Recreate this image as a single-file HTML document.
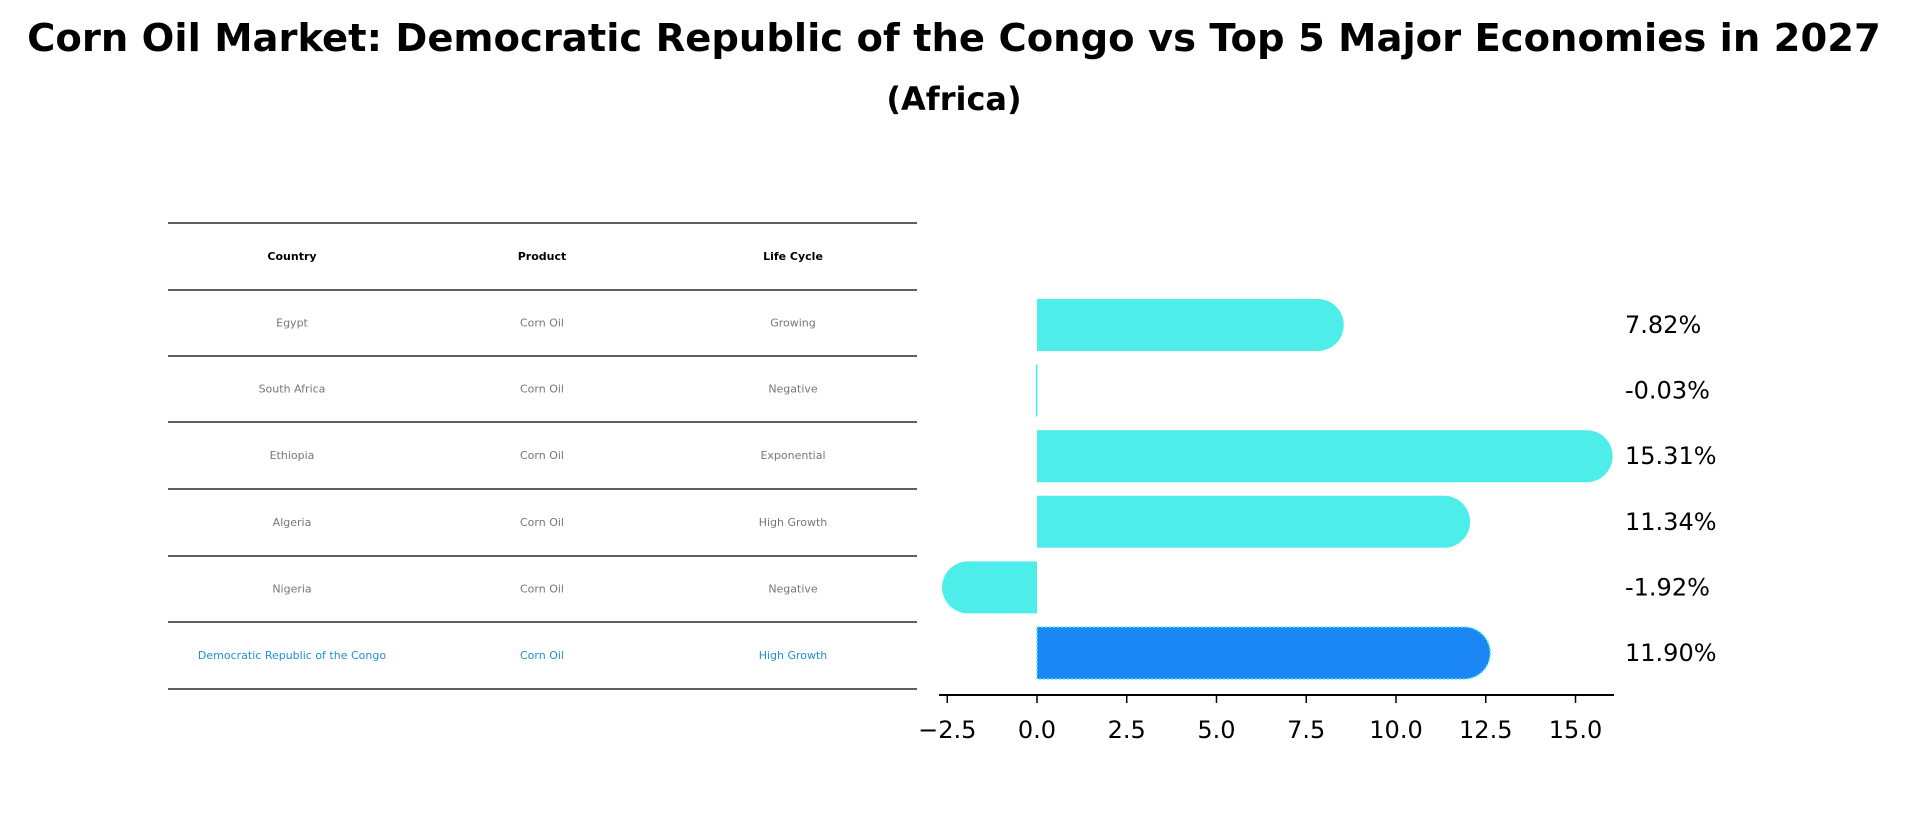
<!DOCTYPE html>
<html><head><meta charset="utf-8"><style>
body{margin:0;background:#fff;width:1909px;height:823px;overflow:hidden;font-family:"Liberation Sans","DejaVu Sans",sans-serif;}
</style></head><body>
<svg width="1909" height="823" xmlns="http://www.w3.org/2000/svg" font-family="DejaVu Sans, Liberation Sans, sans-serif">
<text x="954" y="51" text-anchor="middle" font-size="38.5" font-weight="bold">Corn Oil Market: Democratic Republic of the Congo vs Top 5 Major Economies in 2027</text>
<text x="954" y="110" text-anchor="middle" font-size="32" font-weight="bold">(Africa)</text>
<g id="table"></g>
<g id="bars"></g>
<g id="axis"></g>
</svg>
<script>
const countries=["Egypt","South Africa","Ethiopia","Algeria","Nigeria","Democratic Republic of the Congo"];
const products=["Corn Oil","Corn Oil","Corn Oil","Corn Oil","Corn Oil","Corn Oil"];
const lifeCycles=["Growing","Negative","Exponential","High Growth","Negative","High Growth"];
const values=[7.82,-0.03,15.31,11.34,-1.92,11.90];
const labels=["7.82%","-0.03%","15.31%","11.34%","-1.92%","11.90%"];
const ticks=[-2.5,0,2.5,5,7.5,10,12.5,15];
const tickLabels=["\u22122.5","0.0","2.5","5.0","7.5","10.0","12.5","15.0"];
const NS="http://www.w3.org/2000/svg";
function mk(t,a,p){const e=document.createElementNS(NS,t);for(const k in a)e.setAttribute(k,a[k]);p.appendChild(e);return e;}
const x=v=>1037+v*35.9;
const rowY=i=>325+i*65.6;
const tb=document.getElementById('table');
const lineY=[223,290,356,422,489,556,622,689];
lineY.forEach((y,i)=>{const l=mk('line',{x1:168,x2:917,y1:y,y2:y,stroke:'#000','stroke-width':1.2},tb);

});
const colX=[292,542,793];
["Country","Product","Life Cycle"].forEach((h,i)=>{const t=mk('text',{x:colX[i],y:260,'text-anchor':'middle','font-size':11,'font-weight':'bold'},tb);t.textContent=h;

});
countries.forEach((c,r)=>{const y=(lineY[r+1]+lineY[r+2])/2+3.5;const last=r===countries.length-1;
[c,products[r],lifeCycles[r]].forEach((s,i)=>{const t=mk('text',{x:colX[i],y:y,'text-anchor':'middle','font-size':11,fill:last?'#1f8fd6':'#777'},tb);t.textContent=s;

});});
const bg=document.getElementById('bars');const h=52,r=26;
values.forEach((v,i)=>{const cy=rowY(i);const x0=x(0),x1=x(v);const last=i===values.length-1;const col=last?'#1a87f5':'#4deeea';
let d;
if(Math.abs(x1-x0)<3){d=`M${Math.min(x0,x1)},${cy-h/2}H${Math.max(x0,x1)+0.5}v${h}H${Math.min(x0,x1)}z`;}
else if(v>=0){d=`M${x0},${cy-h/2}H${x1}A${r},${r} 0 0 1 ${x1},${cy+h/2}H${x0}Z`;}
else{d=`M${x0},${cy-h/2}H${x1}A${r},${r} 0 0 0 ${x1},${cy+h/2}H${x0}Z`;}
const p=mk('path',{d:d,fill:col},bg);
if(last){p.setAttribute('stroke','#4deeea');p.setAttribute('stroke-dasharray','2 2');p.setAttribute('stroke-width','1.5');}


const t=mk('text',{x:1625,y:cy+8,'font-size':24},bg);t.textContent=labels[i];

});
const ax=document.getElementById('axis');
const al=mk('line',{x1:939,x2:1614,y1:695,y2:695,stroke:'#000','stroke-width':2},ax);


ticks.forEach((tv,i)=>{const tx=x(tv);const l=mk('line',{x1:tx,x2:tx,y1:695,y2:703,stroke:'#000','stroke-width':1.5},ax);


const t=mk('text',{x:tx,y:738,'text-anchor':'middle','font-size':24},ax);t.textContent=tickLabels[i];

});
</script>
</body></html>
